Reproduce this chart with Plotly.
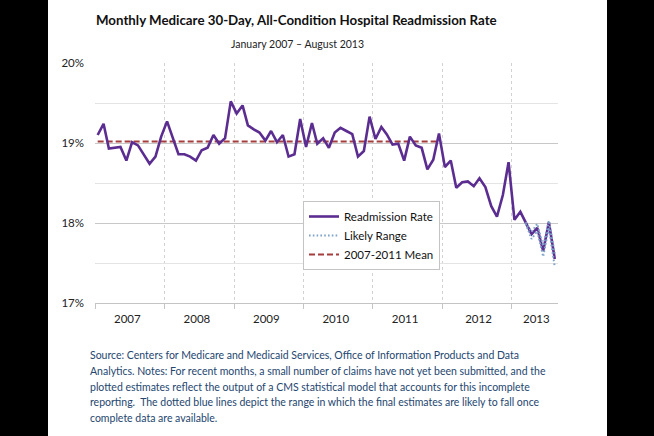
import plotly.graph_objects as go

# ---- data ----
months = [f"{y}-{m:02d}-15" for y in range(2007, 2014) for m in range(1, 13)][:80]
readmission_rate = [
    19.10, 19.24, 18.93, 18.94, 18.95, 18.78, 19.01, 18.97, 18.85, 18.74, 18.83, 19.08,
    19.27, 19.07, 18.86, 18.86, 18.83, 18.78, 18.91, 18.94, 19.10, 18.99, 19.06, 19.52,
    19.37, 19.47, 19.22, 19.17, 19.13, 19.03, 19.15, 19.01, 19.10, 18.83, 18.86, 19.30,
    18.95, 19.25, 18.99, 19.06, 18.94, 19.13, 19.19, 19.15, 19.11, 18.83, 18.90, 19.33,
    19.05, 19.20, 19.11, 18.98, 18.99, 18.78, 19.08, 18.97, 18.94, 18.67, 18.79, 19.12,
    18.70, 18.78, 18.44, 18.51, 18.52, 18.46, 18.56, 18.45, 18.21, 18.08, 18.35, 18.76,
    18.04, 18.14, 18.00, 17.86, 17.94, 17.65, 18.01, 17.55,
]
range_months = months[74:80]
range_upper = [18.01, 17.89, 17.99, 17.71, 18.03, 17.62]
range_lower = [17.99, 17.80, 17.90, 17.58, 17.94, 17.45]
mean_months = months[0:60]
mean_value = 19.02
year_labels = ["2007", "2008", "2009", "2010", "2011", "2012", "2013"]
year_label_pos = ["2007-06-20", "2008-06-20", "2009-06-20", "2010-06-20",
                  "2011-06-20", "2012-07-10", "2013-05-10"]
y_ticks = [17, 18, 19, 20]

FONT = "Lato"
PURPLE = "#5c2d91"
RED = "#a63d3d"
BLUE = "#7ea2c8"

fig = go.Figure()
fig.add_trace(go.Scatter(
    x=mean_months, y=[mean_value] * len(mean_months), mode="lines",
    name="2007-2011 Mean", legendrank=3,
    line=dict(color=RED, width=2, dash="6px,3px"),
))
fig.add_trace(go.Scatter(
    x=months, y=readmission_rate, mode="lines", name="Readmission Rate",
    legendrank=1, line=dict(color=PURPLE, width=2.6),
))
fig.add_trace(go.Scatter(
    x=range_months, y=range_upper, mode="lines", name="Likely Range",
    legendrank=2, legendgroup="range",
    line=dict(color=BLUE, width=2, dash="1.6px,2.2px"),
))
fig.add_trace(go.Scatter(
    x=range_months, y=range_lower, mode="lines", name="Likely Range",
    showlegend=False, legendgroup="range",
    line=dict(color=BLUE, width=2, dash="1.6px,2.2px"),
))

W, H = 654, 436
L, R, T, B = 95, 96, 63, 133
pw, ph = W - L - R, H - T - B


def px(xp):
    return (xp - L) / pw


def py(yp):
    return (H - B - yp) / ph


fig.update_layout(
    width=W, height=H,
    margin=dict(l=L, r=R, t=T, b=B),
    paper_bgcolor="black",
    plot_bgcolor="white",
    font=dict(family=FONT, size=11, color="#222"),
    showlegend=True,
    legend=dict(
        x=px(303), y=py(201), xanchor="left", yanchor="top",
        bgcolor="white", bordercolor="#c4c4c4", borderwidth=1,
        font=dict(family=FONT, size=11.5, color="#111"),
        itemwidth=30, tracegroupgap=0,
    ),
    shapes=[dict(
        type="rect", xref="paper", yref="paper", layer="below",
        x0=px(48), x1=px(607), y0=py(H + 2), y1=py(-2),
        fillcolor="white", line=dict(width=0),
    )],
    xaxis=dict(
        range=["2007-01-01", "2013-09-01"],
        tickmode="array", tickvals=year_label_pos, ticktext=year_labels,
        ticks="", showgrid=False, zeroline=False,
        showline=True, linecolor="#c4c4c4", linewidth=1,
        tickfont=dict(family=FONT, size=11.5, color="#222"),
        ticklabelstandoff=5,
        minor=dict(
            tickmode="linear", tick0="2007-01-01", dtick="M12",
            ticks="outside", ticklen=5, tickcolor="#c4c4c4",
            showgrid=True, gridcolor="#d2d2d2", griddash="dot", gridwidth=1,
        ),
    ),
    yaxis=dict(
        range=[17, 20], tickmode="array", tickvals=y_ticks,
        ticktext=[f"{v}%" for v in y_ticks],
        ticks="", showgrid=True, gridcolor="#c8c8c8", gridwidth=1,
        zeroline=False, showline=False,
        tickfont=dict(family=FONT, size=11.5, color="#222"),
        ticklabelstandoff=10,
        minor=dict(tickmode="linear", tick0=17, dtick=0.5,
                   showgrid=True, gridcolor="#e4e4e4", gridwidth=1, ticks=""),
    ),
)

annotations = [
    dict(text="<b>Monthly Medicare 30-Day, All-Condition Hospital Readmission Rate</b>",
         x=px(296), y=py(20), xanchor="center", yanchor="middle",
         font=dict(family=FONT, size=13.3, color="#111")),
    dict(text="January 2007 \u2013 August 2013",
         x=px(297), y=py(44), xanchor="center", yanchor="middle",
         font=dict(family=FONT, size=10.5, color="#222")),
]
foot_lines = [
    "Source: Centers for Medicare and Medicaid Services, Office of Information Products and Data",
    "Analytics. Notes: For recent months, a small number of claims have not yet been submitted, and the",
    "plotted estimates reflect the output of a CMS statistical model that accounts for this incomplete",
    "reporting.\u00a0 The dotted blue lines depict the range in which the final estimates are likely to fall once",
    "complete data are available.",
]
foot_y = [355, 371, 386.7, 402.3, 417.7]
for t, yy in zip(foot_lines, foot_y):
    annotations.append(dict(
        text=t, x=px(87.5), y=py(yy), xanchor="left", yanchor="middle",
        font=dict(family=FONT, size=10.5, color="#24466f"),
    ))
for a in annotations:
    a.update(xref="paper", yref="paper", showarrow=False)
fig.update_layout(annotations=annotations)

fig.write_html(
    "out.html",
    config={"displayModeBar": False},
    post_script="document.body.style.margin='0';document.body.style.background='black';",
)
